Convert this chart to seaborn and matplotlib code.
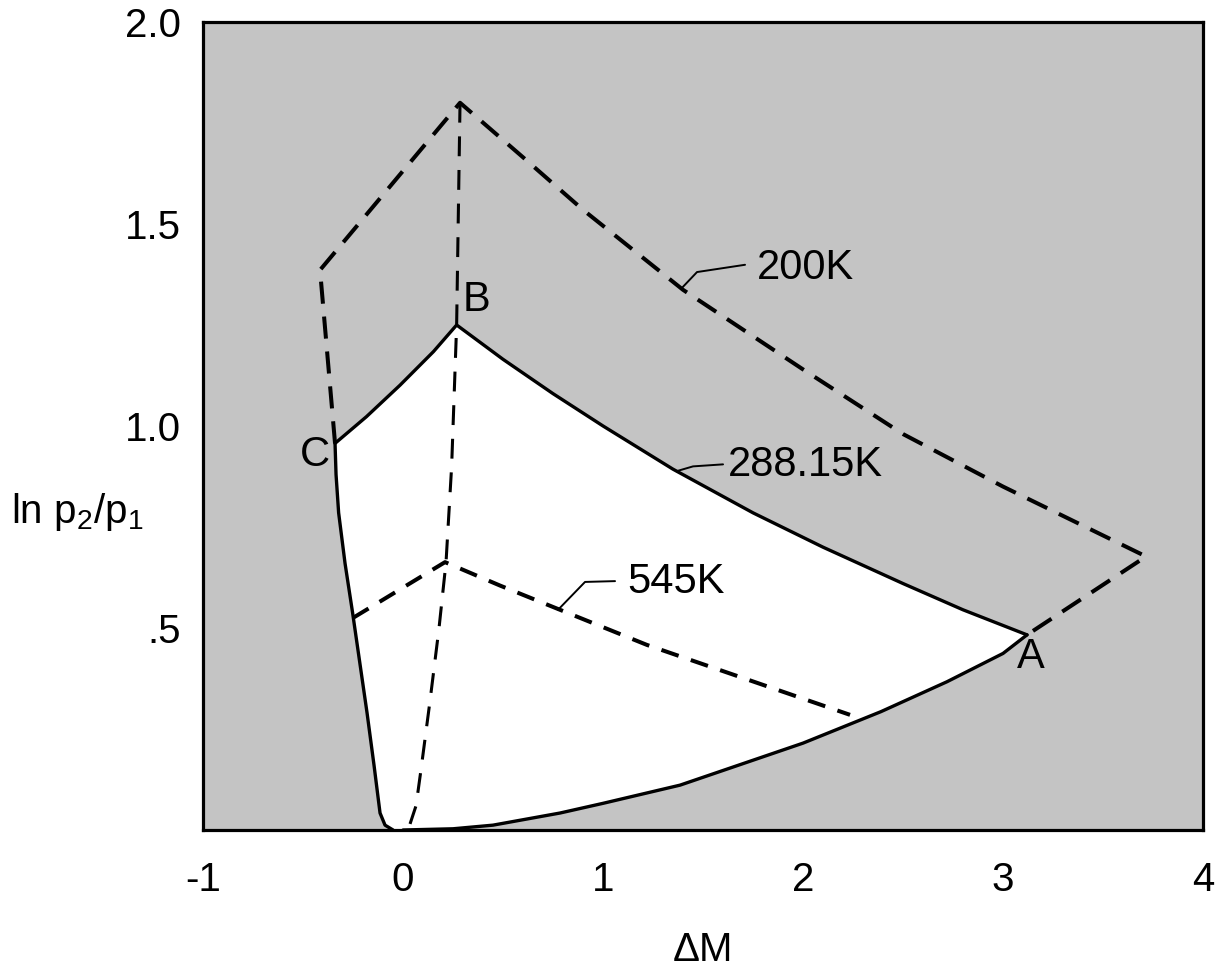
import numpy as np
import pandas as pd
import matplotlib.pyplot as plt
import seaborn as sns

# 288.15K curve, C -> B -> A
top_x = [-0.34, -0.183, -0.015, 0.152, 0.268, 0.5, 0.75, 1.0, 1.35, 1.75, 2.1, 2.5, 2.8, 3.12]
top_y = [0.957, 1.023, 1.101, 1.184, 1.25, 1.165, 1.08, 1.0, 0.893, 0.785, 0.70, 0.61, 0.545, 0.483]

# lower solid boundary, A -> axis
bot_x = [3.12, 3.0, 2.72, 2.39, 2.0, 1.385, 1.0, 0.785, 0.45, 0.25, 0.0]
bot_y = [0.483, 0.437, 0.367, 0.293, 0.215, 0.111, 0.066, 0.042, 0.012, 0.003, 0.0]

# left solid boundary, axis -> C
left_x = [-0.05, -0.09, -0.115, -0.145, -0.18, -0.215, -0.252, -0.29, -0.322, -0.335, -0.34]
left_y = [0.0, 0.012, 0.042, 0.16, 0.29, 0.41, 0.537, 0.66, 0.785, 0.88, 0.957]

# 200K boundary (dashed)
k200_x = [-0.34, -0.415, 0.285, 0.6, 0.9, 1.4, 2.0, 2.5, 3.0, 3.715, 3.12]
k200_y = [0.957, 1.386, 1.80, 1.665, 1.535, 1.337, 1.14, 0.98, 0.85, 0.677, 0.483]

# 545K curve (dashed)
k545_x = [-0.25, 0.21, 0.485, 1.22, 2.235]
k545_y = [0.525, 0.663, 0.605, 0.458, 0.285]

# dashed line through B, from the 200K apex down to the origin
vert_x = [0.285, 0.268, 0.243, 0.215, 0.18, 0.135, 0.09, 0.065, 0.035]
vert_y = [1.80, 1.25, 0.90, 0.663, 0.50, 0.32, 0.15, 0.06, 0.015]

xticks = [-1, 0, 1, 2, 3, 4]
yticks = [0.5, 1.0, 1.5, 2.0]
ytick_labels = ['.5', '1.0', '1.5', '2.0']

sns.set_theme(style='white')
plt.rcParams['font.family'] = ['Liberation Sans', 'DejaVu Sans']
plt.rcParams['mathtext.fontset'] = 'custom'
plt.rcParams['mathtext.rm'] = 'Liberation Sans'
plt.rcParams['mathtext.it'] = 'Liberation Sans'
plt.rcParams['text.color'] = 'black'

fig = plt.figure(figsize=(12.18, 9.72), dpi=100)
ax = fig.add_axes([0.1667, 0.1461, 0.821, 0.8313])
ax.set_facecolor('#c4c4c4')

# white region bounded by the solid curves
poly_x = top_x + bot_x + left_x
poly_y = top_y + bot_y + left_y
ax.fill(poly_x, poly_y, color='white', lw=0, zorder=1)

solid = dict(color='black', lw=2.4, sort=False, estimator=None, legend=False, zorder=3)
sns.lineplot(x=top_x, y=top_y, ax=ax, **solid)
sns.lineplot(x=bot_x, y=bot_y, ax=ax, **solid)
sns.lineplot(x=left_x, y=left_y, ax=ax, **solid)

sns.lineplot(x=k200_x, y=k200_y, ax=ax, color='black', lw=2.9, linestyle=(0, (5.5, 3.2)),
             sort=False, estimator=None, legend=False, zorder=3)
sns.lineplot(x=k545_x, y=k545_y, ax=ax, color='black', lw=2.9, linestyle=(0, (4.5, 3.2)),
             sort=False, estimator=None, legend=False, zorder=3)
sns.lineplot(x=vert_x, y=vert_y, ax=ax, color='black', lw=2.2, linestyle=(0, (6.5, 4.5)),
             sort=False, estimator=None, legend=False, zorder=3)

# leader lines and labels
ax.plot([1.395, 1.47, 1.71], [1.342, 1.381, 1.399], color='black', lw=1.4, zorder=3)
ax.plot([1.367, 1.45, 1.6], [0.888, 0.90, 0.905], color='black', lw=1.4, zorder=3)
ax.plot([0.775, 0.91, 1.06], [0.545, 0.614, 0.616], color='black', lw=1.4, zorder=3)
fs = 30
ax.text(1.77, 1.391, '200K', fontsize=fs, color='black', ha='left', va='center', zorder=4)
ax.text(1.625, 0.903, '288.15K', fontsize=fs, color='black', ha='left', va='center', zorder=4)
ax.text(1.12, 0.614, '545K', fontsize=fs, color='black', ha='left', va='center', zorder=4)
ax.text(0.365, 1.312, 'B', fontsize=fs, color='black', ha='center', va='center', zorder=4)
ax.text(-0.44, 0.928, 'C', fontsize=fs, color='black', ha='center', va='center', zorder=4)
ax.text(3.14, 0.428, 'A', fontsize=fs, color='black', ha='center', va='center', zorder=4)

ax.set_xlim(-1, 4)
ax.set_ylim(0, 2.0)
ax.set_xticks(xticks)
ax.set_xticklabels([str(t) for t in xticks])
ax.set_yticks(yticks)
ax.set_yticklabels(ytick_labels)
ax.tick_params(axis='both', direction='in', length=16, width=2, color='black',
               labelsize=29, labelcolor='black')
ax.tick_params(axis='x', pad=22)
ax.tick_params(axis='y', pad=16)
for s in ax.spines.values():
    s.set_visible(True)
    s.set_color('black')
    s.set_linewidth(2.3)

ax.set_xlabel('ΔM', fontsize=29, color='black')
ax.xaxis.set_label_coords(0.5, -0.125)
ax.set_ylabel('ln p$_2$/p$_1$', fontsize=29, color='black', rotation=0,
              ha='center', va='center')
ax.yaxis.set_label_coords(-0.126, 0.394)

fig.savefig('out.png', dpi=100)
